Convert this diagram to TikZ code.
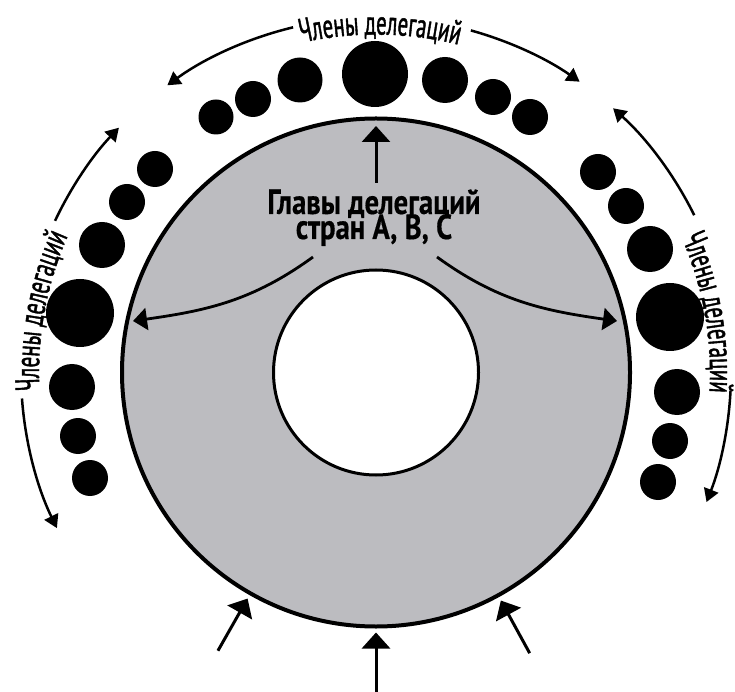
\documentclass[tikz,border=0pt]{standalone}
\usepackage{fontspec}
\newfontfamily\condfont[FakeStretch=0.61,FakeBold=1.2]{PT Sans}
\newfontfamily\headfont[FakeStretch=0.82,FakeBold=0.4]{PT Sans}
\usetikzlibrary{arrows.meta,decorations.text}
\definecolor{ringgray}{RGB}{188,188,192}
\newcommand{\outerfont}{\condfont\fontsize{34}{34}\selectfont}
\tikzset{
  dot/.style={circle, fill=black, inner sep=0pt, outer sep=0pt},
  headtxt/.style={font=\headfont\bfseries\fontsize{35}{25}\selectfont, inner sep=0pt},
  bigarrow/.style={line width=3pt, -{Triangle[width=28pt,length=16pt]}},
  curvearrow/.style={line width=2.8pt, -{Triangle[width=22pt,length=14pt]}},
  arcarrow/.style={line width=2.5pt, -{Triangle[width=15pt,length=13pt]}},
  arclabel/.style={decorate, decoration={text along path, text align=center, text={|\outerfont|#1}}}
}
\begin{document}
\begin{tikzpicture}[x=1pt,y=1pt]
\useasboundingbox[fill=white] (0,0) rectangle (735,691);
\coordinate (C) at (376,318.5);
% ring
\node[circle, draw, line width=4pt, fill=ringgray, minimum size=508pt, inner sep=0pt] (ring) at (C) {};
\node[circle, draw, line width=3pt, fill=white, minimum size=205pt, inner sep=0pt] (hole) at (C) {};
% top dots
\node[dot, minimum size=66pt] (t0) at (375,617) {};
\node[dot, minimum size=46pt] (t1r) at (445,611) {};
\node[dot, minimum size=45pt] (t1l) at (300,611) {};
\node[dot, minimum size=36pt] (t2r) at (493,594) {};
\node[dot, minimum size=36pt] (t2l) at (253,592) {};
\node[dot, minimum size=36pt] (t3r) at (530,574) {};
\node[dot, minimum size=35pt] (t3l) at (216,574) {};
% left dots
\node[dot, minimum size=36pt] (l1) at (155,522) {};
\node[dot, minimum size=36pt] (l2) at (127,489) {};
\node[dot, minimum size=46pt] (l3) at (102,446) {};
\node[dot, minimum size=68pt] (l4) at (80,378) {};
\node[dot, minimum size=46pt] (l5) at (72,304) {};
\node[dot, minimum size=36pt] (l6) at (78,255) {};
\node[dot, minimum size=36pt] (l7) at (90,213) {};
% right dots
\node[dot, minimum size=36pt] (r1) at (598,519) {};
\node[dot, minimum size=36pt] (r2) at (626,485) {};
\node[dot, minimum size=46pt] (r3) at (650,442) {};
\node[dot, minimum size=68pt] (r4) at (670,374) {};
\node[dot, minimum size=46pt] (r5) at (677,299) {};
\node[dot, minimum size=36pt] (r6) at (670,250) {};
\node[dot, minimum size=36pt] (r7) at (658,209) {};
% head text
\node[headtxt, anchor=base] (h1) at (374,477) {Главы делегаций};
\node[headtxt, anchor=base] (h2) at (374,452) {стран А, В, С};
\coordinate (hTop) at (376,508);
\coordinate (tTip) at (376,565);
\draw[bigarrow] (hTop) -- (tTip);
\coordinate (hl) at (313,434);
\coordinate (hr) at (437,434);
\coordinate (lTip) at (133,370);
\coordinate (rTip) at (617,370);
\draw[curvearrow] (hl) to[out=216, in=8] (lTip);
\draw[curvearrow] (hr) to[out=-36, in=172] (rTip);
% bottom arrows
\draw[bigarrow] ([shift={(270:319)}]C) -- ([shift={(270:260)}]C);
\draw[bigarrow] ([shift={(240.4:320)}]C) -- ([shift={(240.4:260)}]C);
\draw[bigarrow] ([shift={(298.7:320)}]C) -- ([shift={(298.7:260)}]C);
% arc labels
\path[arclabel={Члены делегаций}] ([shift={(105.3:338)}]C) arc[start angle=105.3, end angle=73.3, radius=338];
\path[arclabel={Члены делегаций}] ([shift={(185.6:337)}]C) arc[start angle=185.6, end angle=153.6, radius=337];
\path[arclabel={Члены делегаций}] ([shift={(26.2:334)}]C) arc[start angle=26.2, end angle=-5.8, radius=334];
% arc arrows
\draw[arcarrow] ([shift={(103.5:355)}]C) arc[start angle=103.5, end angle=126, radius=355];
\draw[arcarrow] ([shift={(74.5:355)}]C) arc[start angle=74.5, end angle=55, radius=355];
\draw[arcarrow] ([shift={(154.7:355)}]C) arc[start angle=154.7, end angle=136.4, radius=355];
\draw[arcarrow] ([shift={(184.2:355)}]C) arc[start angle=184.2, end angle=206, radius=355];
\draw[arcarrow] ([shift={(26.3:355)}]C) arc[start angle=26.3, end angle=48.1, radius=355];
\draw[arcarrow] ([shift={(-2.9:355)}]C) arc[start angle=-2.9, end angle=-21.4, radius=355];
\end{tikzpicture}
\end{document}
